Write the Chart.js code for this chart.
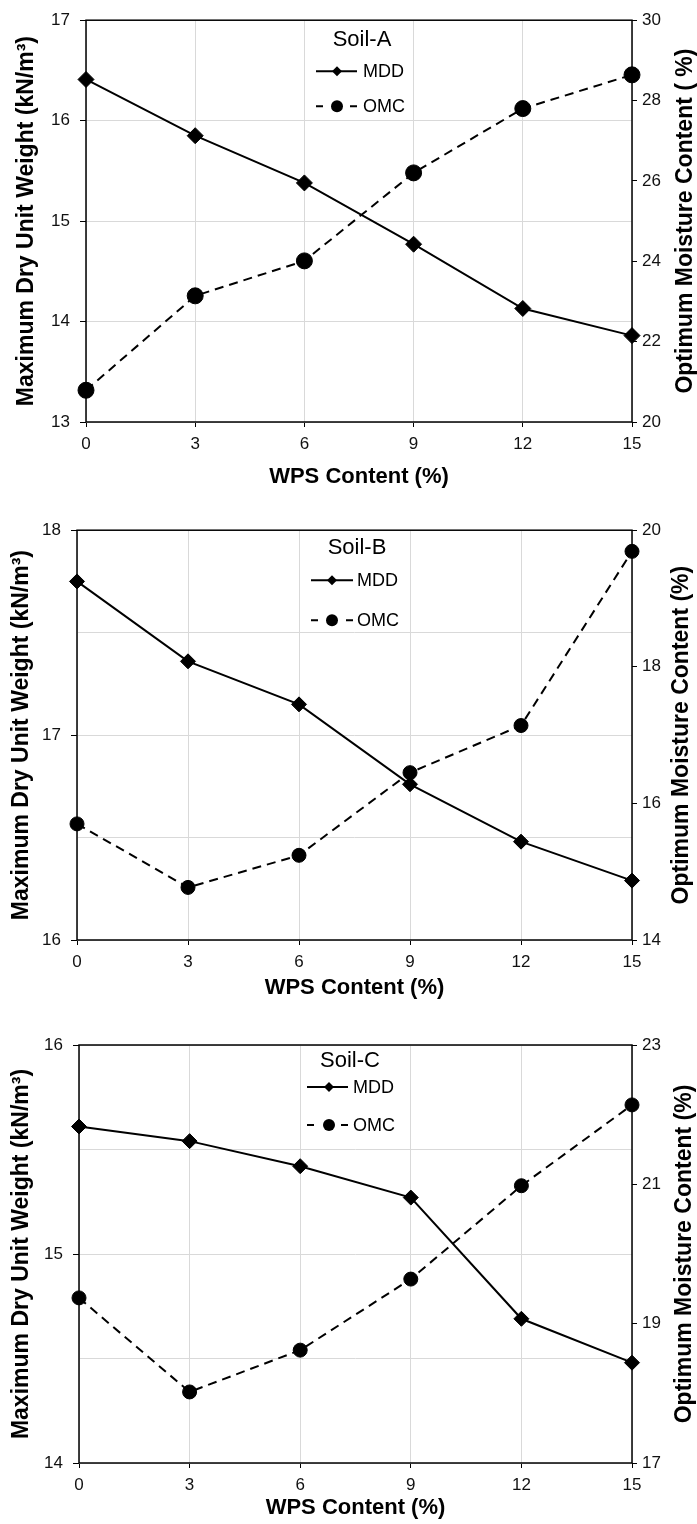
<!DOCTYPE html>
<html>
<head>
<meta charset="utf-8">
<script src="https://cdn.jsdelivr.net/npm/chart.js@4.4.0/dist/chart.umd.min.js"></script>
<style>
html, body { margin: 0; padding: 0; background: #fff; }
.panel { position: absolute; left: 0; width: 697px; }
</style>
</head>
<body>
<div class="panel" style="top:0;height:510px"><canvas id="soilA" width="697" height="510"></canvas></div>
<div class="panel" style="top:510px;height:510px"><canvas id="soilB" width="697" height="510"></canvas></div>
<div class="panel" style="top:1020px;height:504px"><canvas id="soilC" width="697" height="504"></canvas></div>
<script>
// WPS content (%) on the x axis
var wpsLabels = ["0", "3", "6", "9", "12", "15"];

// Soil-A
var mddA = [16.41, 15.85, 15.38, 14.77, 14.13, 13.86];
var omcA = [20.79, 23.14, 24.01, 26.2, 27.8, 28.64];
// Soil-B
var mddB = [17.75, 17.36, 17.15, 16.76, 16.48, 16.29];
var omcB = [15.70, 14.77, 15.24, 16.45, 17.14, 19.69];
// Soil-C
var mddC = [15.61, 15.54, 15.42, 15.27, 14.69, 14.48];
var omcC = [19.37, 18.02, 18.62, 19.64, 20.98, 22.14];

// axis ranges [min, max, step]
var leftA = [13, 17, 1], rightA = [20, 30, 2];
var leftB = [16, 18, 0.5], rightB = [14, 20, 2];
var leftC = [14, 16, 0.5], rightC = [17, 23, 2];

var FONT = "'Liberation Sans', Arial, sans-serif";

// draws plot frame, axis titles and the small legend inside the plot
var decorPlugin = {
    id: "decor",
    beforeDatasetsDraw: function (chart) {
        var a = chart.chartArea, c = chart.ctx;
        c.save();
        c.strokeStyle = "#000";
        c.lineWidth = 1.5;
        c.strokeRect(a.left, a.top, a.right - a.left, a.bottom - a.top);
        c.restore();
    },
    afterDraw: function (chart, args, o) {
        var a = chart.chartArea, c = chart.ctx;
        var cy = (a.top + a.bottom) / 2;
        c.save();
        c.fillStyle = "#000";
        c.font = "bold 22px " + FONT;
        c.textAlign = "center";
        c.textBaseline = "middle";
        // x title
        c.fillText("WPS Content (%)", (a.left + a.right) / 2, a.bottom + o.xTitleGap);
        // left title
        c.font = "bold 23px " + FONT;
        c.save();
        c.translate(o.leftTitleX, cy);
        c.rotate(-Math.PI / 2);
        c.fillText("Maximum Dry Unit Weight (kN/m\u00b3)", 0, 0);
        c.restore();
        // right title (reads bottom to top)
        c.save();
        c.translate(o.rightTitleX, cy);
        c.rotate(-Math.PI / 2);
        c.fillText(o.rightTitle, 0, 0);
        c.restore();

        // legend
        var L = o.legend;
        var ds = chart.data.datasets;
        c.font = "22px " + FONT;
        c.fillText(o.soil, L.cx, a.top + L.titleDy);
        c.font = "18px " + FONT;
        c.textAlign = "left";
        var y1 = a.top + L.mddDy, y2 = a.top + L.omcDy;
        c.strokeStyle = "#000";
        c.lineWidth = 2;
        c.beginPath();
        c.moveTo(L.x0, y1);
        c.lineTo(L.x1, y1);
        c.stroke();
        c.beginPath();
        c.moveTo(L.xm - 5, y1);
        c.lineTo(L.xm, y1 - 5);
        c.lineTo(L.xm + 5, y1);
        c.lineTo(L.xm, y1 + 5);
        c.closePath();
        c.fill();
        c.fillText(ds[0].label, L.xt, y1 + 1);
        c.beginPath();
        c.moveTo(L.x0, y2);
        c.lineTo(L.x0 + 7, y2);
        c.moveTo(L.x1 - 7, y2);
        c.lineTo(L.x1, y2);
        c.stroke();
        c.beginPath();
        c.arc(L.xm, y2, 6, 0, Math.PI * 2);
        c.fill();
        c.fillText(ds[1].label, L.xt, y2 + 1);
        c.restore();
    }
};

function makeChart(id, soil, mdd, omc, left, right, rightTitle, box, extra) {
    var ctx = document.getElementById(id).getContext("2d");
    var H = ctx.canvas.height;

    var tickFont = { family: FONT, size: 17 };

    var chartData = {
        labels: wpsLabels,
        datasets: [
            {
                label: "MDD",
                data: mdd,
                yAxisID: "y",
                borderColor: "#000",
                backgroundColor: "#000",
                borderWidth: 2,
                pointStyle: "rectRot",
                pointRadius: extra.diamond,
                pointBorderWidth: 1,
                clip: false,
            },
            {
                label: "OMC",
                data: omc,
                yAxisID: "y1",
                borderColor: "#000",
                backgroundColor: "#000",
                borderWidth: 2,
                borderDash: [9, 6],
                pointStyle: "circle",
                pointRadius: extra.dot,
                pointBorderWidth: 1,
                clip: false,
            },
        ],
    };

    var chartOptions = {
        responsive: false,
        animation: false,
        layout: { padding: { top: box.top, left: 0, right: 0, bottom: 0 } },
        elements: { line: { tension: 0 } },
        plugins: {
            legend: { display: false },
            tooltip: { enabled: false },
            decor: {
                soil: soil,
                rightTitle: rightTitle,
                xTitleGap: extra.xTitleGap,
                leftTitleX: extra.leftTitleX,
                rightTitleX: extra.rightTitleX,
                legend: extra.legend,
            },
        },
        scales: {
            x: {
                type: "category",
                offset: false,
                border: { display: false },
                grid: { color: "#d9d9d9", tickColor: "#000", tickLength: 5 },
                ticks: { font: tickFont, color: "#111", padding: 7, maxRotation: 0 },
                afterFit: function (s) { s.height = H - box.bottom; },
            },
            y: {
                type: "linear",
                position: "left",
                min: left[0],
                max: left[1],
                border: { display: false },
                grid: {
                    color: "#d9d9d9",
                    tickLength: 6,
                    tickColor: function (c) {
                        return Number.isInteger(c.tick.value) ? "#000" : "rgba(0,0,0,0)";
                    },
                },
                ticks: {
                    stepSize: left[2],
                    font: tickFont,
                    color: "#111",
                    padding: 10,
                    callback: function (v) { return Number.isInteger(v) ? String(v) : ""; },
                },
                afterFit: function (s) { s.width = box.left; },
            },
            y1: {
                type: "linear",
                position: "right",
                min: right[0],
                max: right[1],
                border: { display: false },
                grid: { drawOnChartArea: false, tickColor: "#000", tickLength: 5 },
                ticks: { stepSize: right[2], font: tickFont, color: "#111", padding: 5 },
                afterFit: function (s) { s.width = 697 - box.right; },
            },
        },
    };

    return new Chart(ctx, {
        type: "line",
        data: chartData,
        options: chartOptions,
        plugins: [decorPlugin],
    });
}

makeChart("soilA", "Soil-A", mddA, omcA, leftA, rightA, "Optimum Moisture Content ( %)",
    { top: 15, bottom: 422, left: 86, right: 632 },
    { diamond: 8, dot: 8, xTitleGap: 55, leftTitleX: 27, rightTitleX: 686,
      legend: { cx: 362, titleDy: 20, mddDy: 51, omcDy: 86, x0: 316, x1: 357, xm: 337, xt: 363 } });

makeChart("soilB", "Soil-B", mddB, omcB, leftB, rightB, "Optimum Moisture Content (%)",
    { top: 20, bottom: 430, left: 77, right: 632 },
    { diamond: 7.5, dot: 7, xTitleGap: 48, leftTitleX: 22, rightTitleX: 682,
      legend: { cx: 357, titleDy: 18, mddDy: 50, omcDy: 90, x0: 311, x1: 353, xm: 332, xt: 357 } });

makeChart("soilC", "Soil-C", mddC, omcC, leftC, rightC, "Optimum Moisture Content (%)",
    { top: 25, bottom: 443, left: 79, right: 632 },
    { diamond: 7.5, dot: 7, xTitleGap: 45, leftTitleX: 22, rightTitleX: 685,
      legend: { cx: 350, titleDy: 16, mddDy: 42, omcDy: 80, x0: 307, x1: 348, xm: 329, xt: 353 } });
</script>
</body>
</html>
